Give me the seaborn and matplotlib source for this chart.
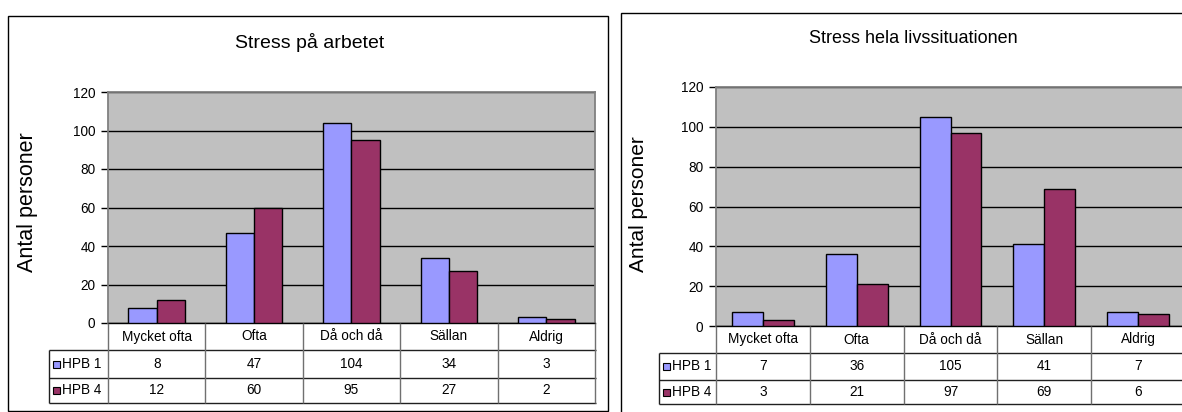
import numpy as np
import pandas as pd
import seaborn as sns
import matplotlib.pyplot as plt
from matplotlib.patches import Rectangle
from matplotlib.lines import Line2D

# Survey answers: how often people feel stressed
categories = ["Mycket ofta", "Ofta", "Då och då", "Sällan", "Aldrig"]
series = ["HPB 1", "HPB 4"]
arbete_hpb1 = [8, 47, 104, 34, 3]
arbete_hpb4 = [12, 60, 95, 27, 2]
livs_hpb1 = [7, 36, 105, 41, 7]
livs_hpb4 = [3, 21, 97, 69, 6]
y_ticks = [0, 20, 40, 60, 80, 100, 120]
colors = ["#9999FF", "#993366"]

sns.set_theme(style="white")
plt.rcParams["font.family"] = ["Liberation Sans", "DejaVu Sans"]
plt.rcParams["text.color"] = "black"
plt.rcParams["axes.labelcolor"] = "black"
plt.rcParams["ytick.color"] = "black"

W, H = 1182, 412
fig = plt.figure(figsize=(W / 100, H / 100), dpi=100)
fig.patch.set_facecolor("white")

TABLE_FS = 9.8


def fx(x):
    return x / W


def fy(y):
    return 1 - y / H


def hline(x0, x1, y, color, lw=1.0):
    fig.add_artist(Line2D([fx(x0), fx(x1)], [fy(y), fy(y)], color=color,
                          lw=lw, transform=fig.transFigure, solid_capstyle="butt"))


def vline(x, y0, y1, color, lw=1.0):
    fig.add_artist(Line2D([fx(x), fx(x)], [fy(y0), fy(y1)], color=color,
                          lw=lw, transform=fig.transFigure, solid_capstyle="butt"))


def panel(hpb1, hpb4, title, frame, plot, label_left, rows, bar_width,
          title_xy, title_size, ylab_xy, ylab_size):
    # chart frame
    fx0, fy0, fx1, fy1 = frame
    fig.add_artist(Rectangle((fx(fx0), fy(fy1)), fx(fx1 - fx0), (fy1 - fy0) / H,
                             fill=False, edgecolor="black", lw=1.0,
                             transform=fig.transFigure))
    px0, py0, px1, py1 = plot
    ax = fig.add_axes([fx(px0), fy(py1), fx(px1 - px0), (py1 - py0) / H])
    df = pd.DataFrame({
        "kategori": categories * 2,
        "grupp": [series[0]] * len(categories) + [series[1]] * len(categories),
        "antal": list(hpb1) + list(hpb4),
    })
    sns.barplot(data=df, x="kategori", y="antal", hue="grupp", order=categories,
                hue_order=series, palette=colors, saturation=1, width=bar_width,
                gap=0, edgecolor="black", linewidth=1, legend=False, ax=ax,
                errorbar=None, zorder=3)
    ax.set_facecolor("#C0C0C0")
    ax.set_xlim(-0.5, len(categories) - 0.5)
    ax.set_ylim(0, 120)
    ax.set_yticks(y_ticks)
    ax.yaxis.grid(True, color="black", lw=1)
    ax.set_axisbelow(True)
    ax.set_xticks([])
    ax.set_xlabel("")
    ax.set_ylabel("")
    ax.tick_params(axis="y", direction="out", length=5, width=1, color="black",
                   labelsize=TABLE_FS, pad=4, left=True, labelcolor="black")
    for side in ("left", "top", "right"):
        ax.spines[side].set_color("#808080")
        ax.spines[side].set_linewidth(1.3)
    ax.spines["bottom"].set_color("black")
    ax.spines["bottom"].set_linewidth(1.0)

    # data table under the plot
    r0, r1, r2, r3 = rows
    col = (px1 - px0) / len(categories)
    hdark = "#202020"
    vgray = "#707070"
    for r in (r1, r2, r3):
        hline(label_left, px1 + 1, r, hdark)
    vline(label_left, r1, r3, hdark)
    for i in range(len(categories) + 1):
        vline(px0 + i * col, r0, r3, vgray)
    tr = ax.get_xaxis_transform()
    h_ax = py1 - py0

    def yax(y):
        return (py1 - y) / h_ax

    for i, cat in enumerate(categories):
        ax.text(i, yax((r0 + r1) / 2), cat, transform=tr, ha="center",
                va="center", fontsize=TABLE_FS, clip_on=False)
        ax.text(i, yax((r1 + r2) / 2), str(hpb1[i]), transform=tr, ha="center",
                va="center", fontsize=TABLE_FS, clip_on=False)
        ax.text(i, yax((r2 + r3) / 2), str(hpb4[i]), transform=tr, ha="center",
                va="center", fontsize=TABLE_FS, clip_on=False)
    for k, (name, c) in enumerate(zip(series, colors)):
        ya, yb = (r1, r2) if k == 0 else (r2, r3)
        yc = (ya + yb) / 2
        fig.add_artist(Rectangle((fx(label_left + 3.5), fy(yc + 3.5)), 7 / W, 7 / H,
                                 facecolor=c, edgecolor="black", lw=0.8,
                                 transform=fig.transFigure))
        fig.text(fx(label_left + 12.5), fy(yc), name, ha="left", va="center",
                 fontsize=TABLE_FS)

    fig.text(fx(title_xy[0]), fy(title_xy[1]), title, ha="center",
             va="baseline", fontsize=title_size)
    fig.text(fx(ylab_xy[0]), fy(ylab_xy[1]), "Antal personer", rotation=90,
             rotation_mode="anchor", ha="center", va="baseline",
             fontsize=ylab_size)
    return ax


panel(arbete_hpb1, arbete_hpb4, "Stress på arbetet",
      frame=(7.5, 15.5, 607.5, 410.5), plot=(108, 92, 595, 323),
      label_left=49, rows=(323, 350, 378, 403), bar_width=0.58,
      title_xy=(310, 48), title_size=14, ylab_xy=(33, 202), ylab_size=15.5)

panel(livs_hpb1, livs_hpb4, "Stress hela livssituationen",
      frame=(620.5, 12.5, 1206, 430), plot=(716, 87, 1185, 326),
      label_left=659, rows=(326, 353, 380, 404), bar_width=0.66,
      title_xy=(913, 43), title_size=13, ylab_xy=(644, 204), ylab_size=15)

fig.savefig("out.png", dpi=100, facecolor="white")
